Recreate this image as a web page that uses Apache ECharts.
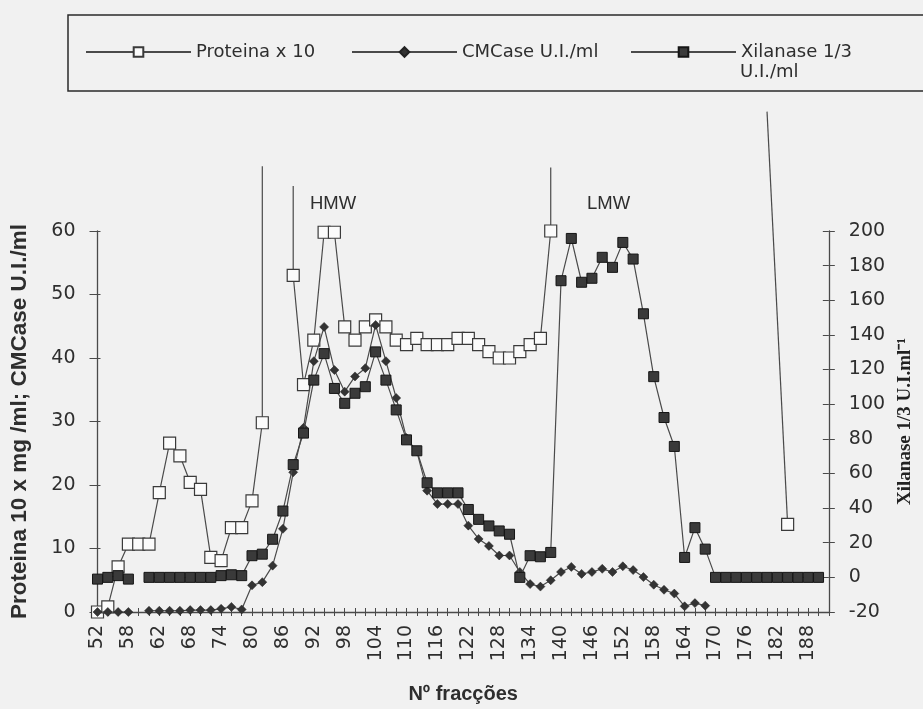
<!DOCTYPE html>
<html><head><meta charset="utf-8">
<script src="https://cdn.jsdelivr.net/npm/echarts@6/dist/echarts.min.js"></script>
<style>html,body{margin:0;padding:0;background:#f1f1f1}#c{width:923px;height:709px}</style>
</head><body><div id="c"></div>
<script>
// Fraction numbers (category axis)
const fractions = ['52','54','56','58','59','60','62','64','66','68','70','72','74','76','78','80','82','84','86','88',
  '90','92','94','96','98','100','102','104','106','108','110','112','114','116','118','120','122','124','126','128',
  '130','132','134','136','138','140','142','144','146','148','150','152','154','156','158','160','162','164','166','168',
  '170','172','174','176','178','180','182','184','186','188','190','192'];

// Proteina x 10 (mg/ml) - left axis; null = off scale
const protein = [0, 0.8, 7.1, 10.7, 10.7, 10.7, 18.8, 26.6, 24.6, 20.4, 19.3, 8.6, 8.1, 13.3, 13.3, 17.5, 29.8, null, null, 53.0,
  35.8, 42.8, 59.8, 59.8, 44.9, 42.8, 44.9, 46.0, 44.9, 42.8, 42.1, 43.1, 42.1, 42.1, 42.1, 43.1, 43.1, 42.1, 41.0, 40.0,
  40.0, 41.0, 42.1, 43.1, 60.0, null, null, null, null, null, null, null, null, null, null, null, null, null, null, null,
  null, null, null, null, null, null, null, 13.8, null, null, null, null];

// CMCase U.I./ml - left axis
const cmcase = [0, 0, 0, 0, null, 0.2, 0.2, 0.2, 0.2, 0.3, 0.3, 0.3, 0.5, 0.8, 0.4, 4.2, 4.7, 7.3, 13.1, 22.0,
  29.0, 39.5, 44.9, 38.1, 34.7, 37.1, 38.4, 45.2, 39.5, 33.7, 27.4, 25.3, 19.1, 17.0, 17.0, 17.0, 13.6, 11.5, 10.4, 8.9,
  8.9, 6.3, 4.4, 4.0, 5.0, 6.3, 7.1, 6.0, 6.3, 6.8, 6.3, 7.2, 6.6, 5.5, 4.3, 3.5, 2.9, 0.9, 1.4, 1.0,
  null, null, null, null, null, null, null, null, null, null, null, null];

// Xilanase 1/3 U.I./ml - right axis
const xylanase = [-1, 0, 1, -1, null, 0, 0, 0, 0, 0, 0, 0, 1, 1.5, 1, 12.5, 13.4, 22.0, 38.3, 65.1,
  83.3, 113.9, 129.2, 109.1, 100.5, 106.3, 110.1, 130.2, 113.9, 96.7, 79.4, 73.1, 54.6, 48.8, 48.8, 48.8, 39.2, 33.5, 29.7, 26.8,
  24.9, 0, 12.5, 11.9, 14.4, 171.3, 195.7, 170.4, 172.7, 184.8, 179.0, 193.4, 183.8, 152.2, 115.9, 92.3, 75.6, 11.5, 28.7, 16.3,
  0, 0, 0, 0, 0, 0, 0, 0, 0, 0, 0, null];

// Protein line segments running off the top of the scale: [fraction index, value]
const offScaleA = [[16, 29.8], [16, 70.2]];
const offScaleB = [[19, 53.0], [19, 67.1]];
const offScaleC = [[44, 60.0], [44, 70.0]];
const offScaleD = [[65, 78.8], [67, 13.8]];

const leftTicks = {min: 0, max: 60, interval: 10};
const rightTicks = {min: -20, max: 200, interval: 20};

const SANS = 'Liberation Sans, Arial, sans-serif';
const WIDE = 'DejaVu Sans, Verdana, sans-serif';
const INK = '#2e2e2e';
const LINE = '#4a4a4a';

const chart = echarts.init(document.getElementById('c'), null, {renderer: 'canvas'});

function offSeries(data) {
  return {type: 'line', data: data, yAxisIndex: 0, showSymbol: false, symbol: 'none', clip: false, silent: true,
    lineStyle: {color: LINE, width: 1.2}, z: 1, legendHoverLink: false, tooltip: {show: false}};
}

const legendText = {fontFamily: WIDE, fontSize: 18, color: INK};

const option = {
  backgroundColor: '#f1f1f1',
  animation: false,
  grid: {left: 91.5, right: 81, top: 231, bottom: 94, containLabel: false},
  legend: [
    {left: 80, top: 38, data: ['Proteina x 10'], itemWidth: 105, itemHeight: 12, textStyle: legendText},
    {left: 346, top: 38, data: ['CMCase U.I./ml'], itemWidth: 105, itemHeight: 12, textStyle: legendText},
    {left: 625, top: 38, data: ['Xilanase 1/3 U.I./ml'], itemWidth: 105, itemHeight: 12,
      formatter: () => 'Xilanase 1/3', textStyle: legendText}
  ],
  xAxis: [
    {type: 'category', data: fractions, boundaryGap: false,
      axisLine: {onZero: false, lineStyle: {color: LINE, width: 1.3}},
      axisTick: {show: true, interval: 0, length: 4, lineStyle: {color: LINE}},
      axisLabel: {interval: 2, rotate: 90, margin: 13, fontFamily: WIDE, fontSize: 19, color: INK},
      name: 'Nº fracções', nameLocation: 'middle', nameGap: 72,
      nameTextStyle: {fontFamily: SANS, fontSize: 20, fontWeight: 'bold', color: INK}},
    {type: 'category', data: fractions, boundaryGap: false, position: 'bottom',
      axisLine: {show: false, onZero: false}, axisLabel: {show: false},
      axisTick: {show: true, inside: true, interval: 0, length: 4, lineStyle: {color: LINE}}}
  ],
  yAxis: [
    {type: 'value', position: 'left', min: leftTicks.min, max: leftTicks.max, interval: leftTicks.interval,
      axisLine: {show: true, lineStyle: {color: LINE, width: 1.3}},
      axisTick: {show: true, length: 8, lineStyle: {color: LINE}},
      splitLine: {show: false},
      axisLabel: {margin: 22, fontFamily: WIDE, fontSize: 19, color: INK},
      name: 'Proteina 10 x mg /ml; CMCase U.I./ml', nameLocation: 'middle', nameGap: 66.5, nameRotate: 90,
      nameTextStyle: {fontFamily: SANS, fontSize: 22.5, fontWeight: 'bold', color: INK}},
    {type: 'value', position: 'right', min: rightTicks.min, max: rightTicks.max, interval: rightTicks.interval,
      axisLine: {show: true, lineStyle: {color: LINE, width: 1.3}},
      axisTick: {show: true, length: 6, lineStyle: {color: LINE}},
      splitLine: {show: false},
      axisLabel: {margin: 20, fontFamily: WIDE, fontSize: 19, color: INK},
      name: 'Xilanase 1/3 U.I.ml⁻¹', nameLocation: 'middle', nameGap: 64, nameRotate: 90,
      nameTextStyle: {fontFamily: 'Liberation Serif, Times New Roman, serif', fontSize: 19, fontWeight: 'bold', color: '#222'}},
    {type: 'value', position: 'left', min: leftTicks.min, max: leftTicks.max, interval: leftTicks.interval,
      axisLine: {show: false}, axisLabel: {show: false}, splitLine: {show: false},
      axisTick: {show: true, inside: true, length: 3, lineStyle: {color: LINE}}},
    {type: 'value', position: 'right', min: rightTicks.min, max: rightTicks.max, interval: rightTicks.interval,
      axisLine: {show: false}, axisLabel: {show: false}, splitLine: {show: false},
      axisTick: {show: true, inside: true, length: 6, lineStyle: {color: LINE}}}
  ],
  series: [
    {name: 'Proteina x 10', type: 'line', data: protein, yAxisIndex: 0, connectNulls: false,
      symbol: 'rect', symbolSize: 12, showAllSymbol: true,
      itemStyle: {color: '#fbfbfb', borderColor: '#3a3a3a', borderWidth: 1.2},
      lineStyle: {color: LINE, width: 1.2}, z: 3},
    {name: 'CMCase U.I./ml', type: 'line', data: cmcase, yAxisIndex: 0,
      symbol: 'diamond', symbolSize: 9, showAllSymbol: true,
      itemStyle: {color: '#333', borderColor: '#222', borderWidth: 0.5},
      lineStyle: {color: LINE, width: 1.2}, z: 4},
    {name: 'Xilanase 1/3 U.I./ml', type: 'line', data: xylanase, yAxisIndex: 1,
      symbol: 'rect', symbolSize: 10, showAllSymbol: true,
      itemStyle: {color: '#3a3a3a', borderColor: '#151515', borderWidth: 1},
      lineStyle: {color: LINE, width: 1.2}, z: 5},
    offSeries(offScaleA), offSeries(offScaleB), offSeries(offScaleC), offSeries(offScaleD)
  ],
  graphic: [
    {type: 'rect', shape: {x: 68, y: 15, width: 900, height: 76}, style: {fill: 'none', stroke: '#2a2a2a', lineWidth: 1.5}, silent: true},
    {type: 'text', left: 740, top: 63, style: {text: 'U.I./ml', fontFamily: WIDE, fontSize: 18, fill: INK}},
    {type: 'text', left: 310, top: 194, style: {text: 'HMW', fontFamily: SANS, fontSize: 18.5, fill: INK}},
    {type: 'text', left: 587, top: 194, style: {text: 'LMW', fontFamily: SANS, fontSize: 18.5, fill: INK}}
  ]
};
chart.setOption(option);
</script>
</body></html>
